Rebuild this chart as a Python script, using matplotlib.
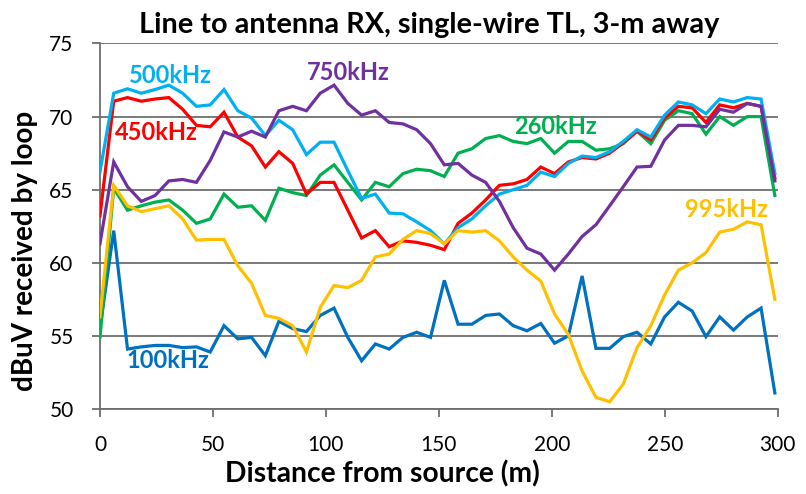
import matplotlib
matplotlib.use("Agg")
import matplotlib.pyplot as plt

plt.rcParams['font.family'] = ['Lato', 'DejaVu Sans']

distance = [0, 6.1, 12.2, 18.3, 24.4, 30.5, 36.6, 42.7, 48.8, 54.9,
            61.0, 67.1, 73.2, 79.2, 85.3, 91.4, 97.5, 103.6, 109.7, 115.8,
            121.9, 128.0, 134.1, 140.2, 146.3, 152.4, 158.5, 164.6, 170.7, 176.8,
            182.9, 189.0, 195.1, 201.2, 207.3, 213.4, 219.5, 225.6, 231.6, 237.7,
            243.8, 249.9, 256.0, 262.1, 268.2, 274.3, 280.4, 286.5, 292.6, 298.7]

khz100 = [55.5, 62.2, 54.1, 54.25, 54.35, 54.35, 54.2, 54.25, 53.9, 55.7,
          54.8, 54.9, 53.65, 56.0, 55.5, 55.3, 56.4, 56.9, 54.9, 53.3,
          54.45, 54.1, 54.9, 55.25, 54.9, 58.8, 55.8, 55.8, 56.4, 56.5,
          55.7, 55.35, 55.85, 54.5, 55.0, 59.1, 54.15, 54.15, 54.95, 55.25,
          54.45, 56.3, 57.3, 56.7, 54.95, 56.3, 55.4, 56.3, 56.9, 51.1]

khz260 = [54.9, 65.1, 63.6, 63.9, 64.15, 64.3, 63.6, 62.7, 63.0, 64.7,
          63.8, 63.9, 62.9, 65.1, 64.8, 64.6, 66.0, 66.7, 65.5, 64.3,
          65.5, 65.2, 66.1, 66.4, 66.3, 65.9, 67.5, 67.8, 68.5, 68.7,
          68.3, 68.15, 68.5, 67.5, 68.3, 68.3, 67.7, 67.8, 68.15, 69.0,
          68.15, 69.75, 70.4, 70.2, 68.8, 70.0, 69.4, 70.0, 70.0, 64.6]

khz450 = [63.2, 71.05, 71.3, 71.05, 71.2, 71.3, 70.5, 69.4, 69.3, 70.3,
          68.6, 68.0, 66.55, 67.6, 66.8, 64.7, 65.5, 65.5, 63.6, 61.7,
          62.2, 61.1, 61.5, 61.4, 61.2, 60.9, 62.7, 63.4, 64.3, 65.3,
          65.4, 65.7, 66.55, 66.1, 66.9, 67.2, 67.1, 67.5, 68.2, 69.0,
          68.4, 69.9, 70.7, 70.6, 69.6, 70.8, 70.6, 70.9, 70.7, 65.8]

khz500 = [66.2, 71.6, 71.9, 71.6, 71.85, 72.15, 71.6, 70.7, 70.8, 71.85,
          70.4, 69.9, 68.7, 69.75, 69.1, 67.4, 68.25, 68.25, 66.3, 64.4,
          64.7, 63.4, 63.35, 62.8, 62.2, 61.3, 62.4, 63.0, 63.9, 64.7,
          65.0, 65.3, 66.2, 65.9, 66.8, 67.3, 67.2, 67.6, 68.3, 69.1,
          68.6, 70.1, 71.0, 70.8, 70.2, 71.2, 71.0, 71.3, 71.2, 66.1]

khz750 = [61.3, 66.9, 65.2, 64.2, 64.6, 65.6, 65.7, 65.5, 67.0, 68.95,
          68.6, 69.0, 68.6, 70.4, 70.7, 70.4, 71.6, 72.15, 70.9, 70.1,
          70.4, 69.6, 69.5, 69.1, 68.15, 66.7, 66.8, 66.0, 65.5, 64.2,
          62.4, 61.0, 60.6, 59.5, 60.6, 61.8, 62.6, 63.9, 65.2, 66.55,
          66.6, 68.4, 69.4, 69.4, 69.3, 70.5, 70.3, 70.9, 70.7, 65.6]

khz995 = [56.3, 65.3, 63.9, 63.5, 63.7, 63.9, 63.0, 61.55, 61.6, 61.6,
          59.8, 58.6, 56.4, 56.2, 55.7, 53.9, 56.95, 58.45, 58.3, 58.8,
          60.4, 60.6, 61.6, 62.2, 62.0, 61.3, 62.2, 62.1, 62.2, 61.5,
          60.4, 59.5, 58.75, 56.5, 55.1, 52.6, 50.8, 50.5, 51.7, 54.2,
          55.7, 57.8, 59.5, 60.0, 60.7, 62.1, 62.3, 62.8, 62.6, 57.5]

series_names = ['100kHz', '260kHz', '450kHz', '500kHz', '750kHz', '995kHz']
series_values = [khz100, khz260, khz450, khz500, khz750, khz995]
colors = ['#0070C0', '#00B050', '#FF0000', '#00B0F0', '#7030A0', '#FFC000']
label_pos = [(11.9, 53.35), (183.2, 69.3), (6.6, 68.9), (12.8, 72.8), (91.6, 73.0), (258.8, 63.65)]

x_ticks = [0, 50, 100, 150, 200, 250, 300]
y_ticks = [50, 55, 60, 65, 70, 75]

fig = plt.figure(figsize=(8.06, 4.94), dpi=100)
ax = fig.add_axes([0.124, 0.172, 0.841, 0.740])

for name, vals, c, (lx, ly) in zip(series_names, series_values, colors, label_pos):
    ax.plot(distance, vals, color=c, lw=2.3, solid_joinstyle='miter', zorder=3)
    ax.text(lx, ly, name, color=c, fontsize=17, fontweight='bold', va='center', ha='left', zorder=4)

ax.set_xlim(0, 300)
ax.set_ylim(50, 75)
ax.set_xticks(x_ticks)
ax.set_yticks(y_ticks)
ax.yaxis.grid(True, color='#6e6e6e', lw=1.3)
ax.set_axisbelow(True)
for s in ['top', 'right']:
    ax.spines[s].set_visible(False)
for s in ['left', 'bottom']:
    ax.spines[s].set_color('#6e6e6e')
    ax.spines[s].set_linewidth(1.3)
ax.tick_params(axis='both', which='both', direction='out', length=6, width=1.3,
               color='#6e6e6e', labelsize=15, labelcolor='black')
ax.tick_params(axis='x', pad=13)
ax.tick_params(axis='y', pad=13)

ax.set_xlabel('Distance from source (m)', fontsize=20.3, fontweight='bold')
ax.xaxis.set_label_coords(0.417, -0.139)
ax.set_ylabel('dBuV received by loop', fontsize=20, fontweight='bold')
ax.yaxis.set_label_coords(-0.0915, 0.434)
fig.text(0.532, 1 - 33 / 494, 'Line to antenna RX, single-wire TL, 3-m away',
         fontsize=20.8, fontweight='bold', ha='center', va='baseline')

fig.savefig('out.png', dpi=100)
